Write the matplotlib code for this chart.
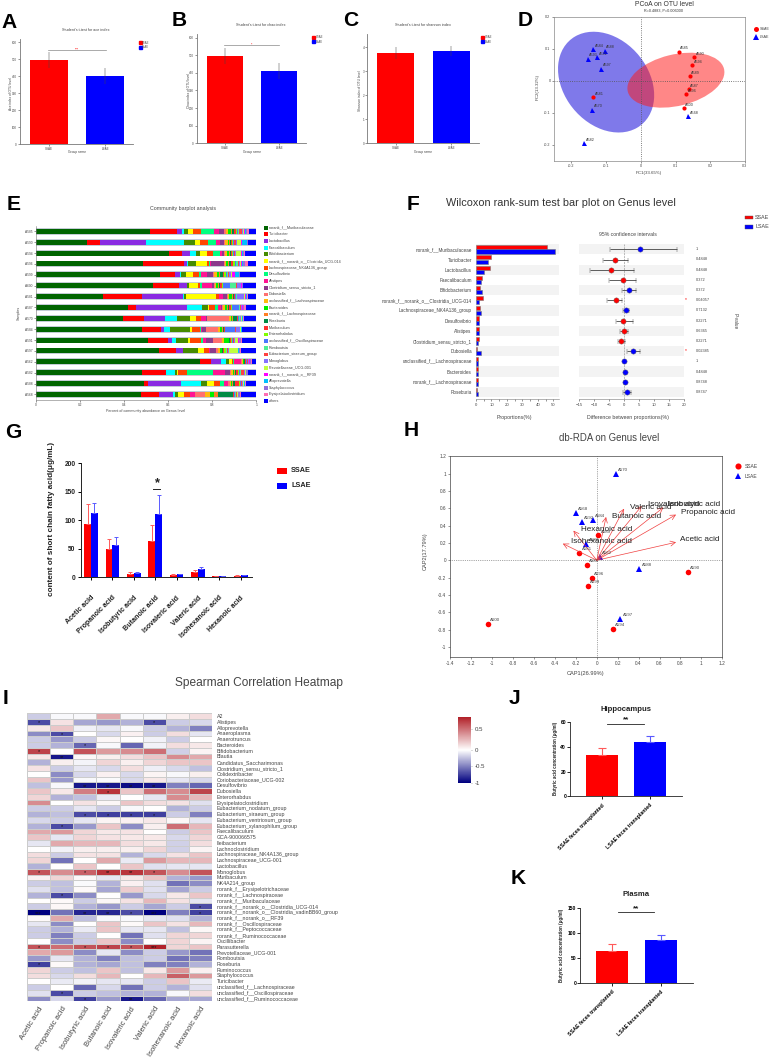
import numpy as np
import matplotlib
matplotlib.use("Agg")
import matplotlib.pyplot as plt
from matplotlib.colors import LinearSegmentedColormap, TwoSlopeNorm
from matplotlib.patches import Ellipse, Rectangle

plt.rcParams['font.family'] = ['Liberation Sans', 'DejaVu Sans']

W, H = 775, 1062
RED = '#ff0000'
BLUE = '#0000ff'
GREY = '#777777'

# A B C
groups = ['SSAE', 'LSAE']
ace_mean = [497, 403]
ace_err = [47, 48]
chao_mean = [497, 410]
chao_err = [46, 43]
shannon_mean = [3.75, 3.85]
shannon_err = [0.25, 0.22]

# D
pcoa_ssae_names = ['A585', 'A590', 'A594', 'A589', 'A587', 'A596', 'A600', 'A581']
pcoa_ssae_x = [0.109, 0.154, 0.148, 0.141, 0.1375, 0.131, 0.123, -0.137]
pcoa_ssae_y = [0.091, 0.073, 0.049, 0.014, -0.027, -0.042, -0.084, -0.05]
pcoa_lsae_names = ['A584', 'A588', 'A592', 'A593', 'A597', 'A570', 'A568', 'A582']
pcoa_lsae_x = [-0.137, -0.104, -0.125, -0.153, -0.114, -0.14, 0.136, -0.1625]
pcoa_lsae_y = [0.1, 0.094, 0.075, 0.069, 0.038, -0.09, -0.11, -0.195]

# E
samples = ['A585', 'A590', 'A594', 'A596', 'A599', 'A600', 'A581', 'A587', 'A570', 'A584',
           'A591', 'A597', 'A562', 'A582', 'A588', 'A568']
genera_e = ['norank_f__Muribaculaceae', 'Turicibacter', 'Lactobacillus', 'Faecalibaculum',
            'Bifidobacterium', 'norank_f__norank_o__Clostridia_UCG-014',
            'Lachnospiraceae_NK4A136_group', 'Desulfovibrio', 'Alistipes',
            'Clostridium_sensu_stricto_1', 'Dubosiella', 'unclassified_f__Lachnospiraceae',
            'Bacteroides', 'norank_f__Lachnospiraceae', 'Roseburia', 'Muribaculum',
            'Enterorhabdus', 'unclassified_f__Oscillospiraceae', 'Romboutsia',
            'Eubacterium_siraeum_group', 'Monoglobus', 'Prevotellaceae_UCG-001',
            'norank_f__norank_o__RF39', 'Alloprevotella', 'Staphylococcus',
            'Erysipelatoclostridium', 'others']
colors_e = ['#006400', '#ff0000', '#8a2be2', '#00ffff', '#458b00', '#ffff00', '#ff4500',
            '#00ff7f', '#ff1493', '#8b3a8b', '#ff7070', '#ffb90f', '#00ee00', '#ff7f24',
            '#008b45', '#ff3030', '#7fff00', '#4876ff', '#4eee94', '#ff4040', '#8470ff',
            '#c0ff3e', '#ff00ff', '#00bfff', '#9370db', '#ff6eb4', '#0000ff']
abund = [
    [53.3, 12.2, 2.6, 0.8, 1.7, 2.7, 3.5, 5.9, 2.7, 2.0, 1.2, 0.6, 1.5, 0.6, 0.8, 0.8, 0.6, 0.6, 0.5, 1.2, 0.6, 0.5, 0.4, 0.3, 0.8, 0.6, 3.5],
    [23.3, 5.7, 21.0, 17.4, 4.7, 2.4, 3.6, 3.5, 1.8, 2.1, 0.3, 1.2, 0.6, 0.5, 0.4, 0.4, 0.5, 0.3, 0.4, 0.6, 0.5, 2.0, 0.3, 2.4, 0.3, 0.2, 3.6],
    [61.0, 5.9, 3.6, 2.6, 2.1, 3.3, 2.6, 3.3, 0.9, 0.9, 0.4, 0.9, 0.6, 0.6, 0.5, 0.5, 0.4, 0.4, 0.3, 0.4, 0.4, 2.4, 0.3, 0.4, 0.5, 0.6, 5.0],
    [49.1, 19.0, 1.5, 0.2, 3.9, 5.1, 0.9, 0.3, 0.7, 5.6, 0.4, 0.5, 0.9, 0.5, 0.9, 1.2, 0.6, 0.5, 1.0, 0.6, 0.5, 0.5, 0.4, 0.5, 0.9, 1.1, 4.0],
    [56.0, 6.3, 2.6, 0.2, 2.4, 3.0, 2.6, 1.2, 2.4, 3.0, 0.2, 1.5, 1.0, 0.5, 1.2, 0.6, 0.6, 0.4, 0.4, 0.8, 0.6, 0.4, 1.5, 1.8, 0.3, 0.3, 7.2],
    [53.0, 12.0, 3.3, 0.1, 1.0, 3.9, 0.9, 1.2, 4.4, 0.9, 0.3, 0.5, 0.9, 0.5, 0.7, 0.5, 0.7, 3.3, 2.7, 0.3, 1.8, 0.2, 0.1, 0.2, 0.2, 0.2, 6.0],
    [30.7, 17.8, 18.7, 0.5, 1.0, 13.4, 1.4, 0.1, 1.7, 2.0, 0.6, 0.3, 1.2, 0.5, 0.4, 0.5, 0.3, 0.3, 0.3, 0.3, 3.2, 0.3, 0.5, 0.3, 0.2, 0.3, 3.9],
    [41.8, 3.2, 23.0, 7.1, 2.4, 0.7, 2.6, 1.4, 1.4, 0.3, 0.3, 1.2, 0.8, 0.6, 0.5, 0.8, 0.5, 3.2, 0.2, 0.5, 0.4, 0.2, 0.2, 0.2, 0.5, 0.6, 4.8],
    [39.7, 9.5, 9.7, 5.4, 6.0, 2.4, 2.4, 0.2, 2.1, 0.3, 10.3, 0.6, 0.5, 0.4, 2.0, 0.4, 0.3, 0.3, 0.3, 0.3, 0.4, 0.2, 0.2, 0.2, 0.3, 0.3, 5.6],
    [48.0, 9.0, 1.2, 2.9, 8.9, 0.8, 3.6, 0.5, 0.5, 1.7, 5.6, 0.9, 1.0, 0.4, 0.3, 0.4, 0.3, 4.2, 0.3, 0.3, 2.0, 0.2, 0.2, 0.1, 0.2, 0.2, 6.3],
    [50.4, 8.9, 1.5, 1.7, 5.6, 0.8, 5.1, 0.9, 1.2, 3.0, 4.0, 1.0, 2.1, 0.3, 0.4, 0.5, 0.3, 0.4, 0.3, 0.3, 0.5, 1.2, 0.3, 0.2, 1.0, 0.2, 6.5],
    [55.0, 7.4, 3.2, 0.1, 6.8, 2.6, 2.1, 0.3, 0.4, 2.7, 0.8, 0.7, 0.8, 0.4, 0.4, 0.5, 0.6, 0.3, 0.3, 0.3, 0.3, 4.1, 0.2, 0.2, 0.7, 0.2, 7.0],
    [74.6, 5.3, 4.4, 2.4, 1.0, 1.7, 0.3, 0.3, 3.2, 0.3, 0.4, 0.3, 0.3, 0.2, 0.3, 0.6, 0.2, 0.2, 0.2, 0.5, 0.3, 0.2, 0.2, 0.1, 0.5, 0.2, 2.1],
    [47.1, 10.9, 0.1, 3.8, 0.8, 0.6, 4.2, 11.2, 5.6, 2.0, 0.5, 0.8, 0.5, 0.6, 0.5, 0.9, 0.4, 0.3, 0.4, 1.6, 0.3, 0.2, 0.2, 0.1, 0.6, 0.4, 3.5],
    [49.0, 1.8, 14.8, 9.2, 2.6, 3.2, 2.4, 2.0, 1.7, 0.3, 0.7, 0.4, 0.6, 0.6, 0.7, 2.0, 0.3, 0.3, 0.3, 0.4, 0.3, 0.3, 0.2, 0.3, 0.3, 0.2, 4.7],
    [48.2, 7.9, 6.6, 1.0, 1.4, 2.6, 2.6, 0.1, 2.1, 0.1, 4.7, 2.0, 1.8, 2.0, 6.9, 0.3, 0.3, 0.4, 0.3, 0.3, 0.4, 0.2, 0.1, 0.1, 0.7, 0.5, 7.0],
]

# F
genera_f = ['norank_f__Muribaculaceae', 'Turicibacter', 'Lactobacillus', 'Faecalibaculum',
            'Bifidobacterium', 'norank_f__norank_o__Clostridia_UCG-014',
            'Lachnospiraceae_NK4A136_group', 'Desulfovibrio', 'Alistipes',
            'Clostridium_sensu_stricto_1', 'Dubosiella', 'unclassified_f__Lachnospiraceae',
            'Bacteroides', 'norank_f__Lachnospiraceae', 'Roseburia']
prop_ssae = [46, 10, 9.3, 3.7, 2.5, 4.3, 2.4, 2.0, 2.0, 2.0, 0.5, 1.2, 1.2, 1.2, 0.7]
prop_lsae = [51, 7.5, 5.2, 3.2, 4.2, 1.8, 3.0, 2.0, 2.0, 1.5, 3.3, 1.2, 1.2, 1.2, 1.5]
diff = [5.4, -2.9, -4.4, -0.3, 1.7, -2.7, 0.6, -0.3, 0.0, -0.9, 3.0, 0.0, 0.2, 0.2, 0.8]
ci_low = [-4.65, -7.0, -11.3, -5.0, -0.7, -5.6, -0.5, -2.7, -1.3, -2.1, 0.8, -0.2, -0.2, -0.2, -0.3]
ci_high = [17.6, 1.4, 3.3, 3.8, 4.0, -0.8, 1.7, 3.0, 1.3, 0.3, 5.4, 0.2, 0.6, 0.6, 2.2]
p_values = ['1', '0.4848', '0.4848', '0.372', '0.372', '0.04057', '0.7132', '0.2271',
            '0.6365', '0.2271', '0.02385', '1', '0.4848', '0.8748', '0.8747']

# G
acids = ['Acetic acid', 'Propanoic acid', 'Isobutyric acid', 'Butanoic acid',
         'Isovaleric acid', 'Valeric acid', 'Isohexanoic acid', 'Hexanoic acid']
scfa_ssae = [94, 49, 5, 63, 3.5, 9, 1.2, 2]
scfa_lsae = [112, 57, 7, 110, 4.5, 14, 1.5, 3]
scfa_ssae_err = [34, 17, 3, 29, 2.5, 4, 0.8, 1]
scfa_lsae_err = [18, 14, 1.5, 34, 1.5, 4, 1, 1]

# H
rda_ssae_names = ['A590', 'A600', 'A594', 'A599', 'A596', 'A586', 'A581', 'A589']
rda_ssae_x = [0.87, -1.042, 0.153, -0.086, -0.048, -0.092, -0.166, 0.016]
rda_ssae_y = [-0.135, -0.738, -0.796, -0.292, -0.2, -0.054, 0.088, 0.288]
rda_lsae_names = ['A570', 'A568', 'A584', 'A592', 'A587', 'A562', 'A588', 'A597']
rda_lsae_x = [0.185, -0.2, -0.035, -0.14, -0.1, 0.029, 0.408, 0.226]
rda_lsae_y = [1.0, 0.546, 0.469, 0.442, 0.185, 0.035, -0.104, -0.677]
arrow_x = [0.758, 0.758, 0.637, 0.43, 0.261, 0.089, -0.223, -0.325]
arrow_y = [0.208, 0.527, 0.61, 0.627, 0.596, 0.5, 0.342, 0.192]
arrow_names = ['Acetic acid', 'Propanoic acid', 'Isobutyric acid', 'Isovaleric acid',
               'Valeric acid', 'Butanoic acid', 'Hexanoic acid', 'Isohexanoic acid']
arrow_text_x = [0.8, 0.808, 0.68, 0.485, 0.313, 0.15, -0.153, -0.242]
arrow_text_y = [0.235, 0.547, 0.645, 0.645, 0.61, 0.505, 0.358, 0.213]

# I
genera_i = ['A2', 'Alistipes', 'Alloprevotella', 'Anaeroplasma', 'Anaerotruncus', 'Bacteroides',
            'Bifidobacterium', 'Blautia', 'Candidatus_Saccharimonas', 'Clostridium_sensu_stricto_1',
            'Colidextribacter', 'Coriobacteriaceae_UCG-002', 'Desulfovibrio', 'Dubosiella',
            'Enterorhabdus', 'Erysipelatoclostridium', 'Eubacterium_nodatum_group',
            'Eubacterium_siraeum_group', 'Eubacterium_ventriosum_group',
            'Eubacterium_xylanophilum_group', 'Faecalibaculum', 'GCA-900066575', 'Ileibacterium',
            'Lachnoclostridium', 'Lachnospiraceae_NK4A136_group', 'Lachnospiraceae_UCG-001',
            'Lactobacillus', 'Monoglobus', 'Muribaculum', 'NK4A214_group',
            'norank_f__Erysipelotrichaceae', 'norank_f__Lachnospiraceae',
            'norank_f__Muribaculaceae', 'norank_f__norank_o__Clostridia_UCG-014',
            'norank_f__norank_o__Clostridia_vadinBB60_group', 'norank_f__norank_o__RF39',
            'norank_f__Oscillospiraceae', 'norank_f__Peptococcaceae', 'norank_f__Ruminococcaceae',
            'Oscillibacter', 'Parasutterella', 'Prevotellaceae_UCG-001', 'Romboutsia', 'Roseburia',
            'Ruminococcus', 'Staphylococcus', 'Turicibacter', 'unclassified_f__Lachnospiraceae',
            'unclassified_f__Oscillospiraceae', 'unclassified_f__Ruminococcaceae']
corr = [
    [-.2, -.03, -.03, .3, -.03, -.03, .06, .12],
    [-.7, .1, -.35, -.4, -.3, -.7, -.2, -.15],
    [.08, .2, -.06, -.1, -.03, -.2, -.3, -.5],
    [-.45, -.7, 0, -.15, .05, -.2, .12, -.1],
    [-.2, -.4, -.2, .03, 0, -.05, -.2, 0],
    [-.2, -.3, -.6, -.03, -.6, -.05, .12, .08],
    [.65, 0, .6, .35, .4, .5, -.18, .04],
    [.08, -.9, .03, .06, .12, .2, .4, .3],
    [-.3, .06, -.04, .15, .06, .15, .2, .2],
    [.1, -.2, -.1, -.15, .12, -.07, -.15, -.25],
    [0, -.45, -.15, .05, -.15, .04, -.03, .06],
    [.2, -.4, -.03, -.02, -.15, .08, -.1, -.15],
    [-.25, -.03, -.9, -.9, -.95, -.9, -.5, -.6],
    [.2, .08, .45, .7, .2, .5, .4, .65],
    [.15, -.3, -.25, -.08, 0, -.1, .4, .25],
    [.4, 0, .1, .03, .2, .12, .1, -.12],
    [-.2, -.2, -.1, -.2, -.03, 0, -.3, -.2],
    [-.3, -.25, -.7, -.75, -.75, -.75, -.2, -.5],
    [-.15, -.2, -.1, .04, .05, .08, .03, -.1],
    [-.3, -.7, -.4, .2, -.45, .06, .5, .25],
    [.3, .35, .15, .08, .1, 0, -.2, .2],
    [.2, -.1, .15, .1, .08, .08, -.15, .15],
    [-.1, .3, .25, .25, .12, .08, -.18, .12],
    [0, -.05, .06, .06, .06, .15, -.18, .04],
    [.12, -.2, .1, .1, -.3, -.15, .1, .2],
    [.15, -.55, 0, .3, -.08, .35, .25, .25],
    [-.3, 0, .2, 0, .2, -.12, -.1, -.1],
    [.6, .4, .55, .7, .7, .6, .4, .6],
    [.05, .15, .03, -.1, .08, .2, -.3, -.4],
    [-.2, -.25, -.02, -.3, .05, -.12, -.55, -.45],
    [-.12, -.25, .02, -.35, .18, -.12, -.35, -.2],
    [-.3, -.7, -.45, 0, -.4, -.15, .08, .2],
    [0, .02, -.2, .03, .1, .25, .1, -.1],
    [-.2, .03, -.3, -.4, -.2, -.35, -.2, -.7],
    [-1, -.55, -.85, -.85, -.7, -1, -.5, -.75],
    [.02, .3, -.25, -.03, -.03, -.1, -.12, -.3],
    [-.1, -.45, 0, .2, .02, .2, .1, .25],
    [-.2, -.3, -.08, .2, -.1, -.1, -.25, .03],
    [-.2, -.5, -.2, 0, -.55, -.12, .15, .15],
    [0, -.45, -.2, .2, -.45, 0, .15, .04],
    [.6, .5, .6, .65, .6, .77, .15, .2],
    [.3, .35, -.45, -.1, -.45, -.2, -.4, -.55],
    [-.4, -.1, -.3, -.5, -.25, -.2, -.55, -.5],
    [-.75, .02, -.3, -.35, -.25, -.5, -.5, -.3],
    [.15, -.2, -.25, .2, -.25, .08, .35, .05],
    [.12, -.15, .12, .25, 0, .25, .55, .35],
    [0, -.08, -.05, -.1, -.1, -.2, .2, -.08],
    [-.2, 0, -.6, -.15, -.55, -.2, -.3, -.12],
    [-.12, -.7, -.2, -.25, -.3, -.3, -.03, .12],
    [-.45, -.15, -.75, -.4, -.9, -.6, -.35, -.35],
]
stars = {'Alistipes': {0: '*', 5: '*'}, 'Anaeroplasma': {1: '*'}, 'Bacteroides': {2: '*'},
         'Bifidobacterium': {0: '*'}, 'Blautia': {1: '**'},
         'Desulfovibrio': {2: '**', 3: '**', 4: '**', 5: '**'}, 'Dubosiella': {3: '*'},
         'Eubacterium_siraeum_group': {2: '*', 3: '*', 4: '*', 5: '*'},
         'Eubacterium_xylanophilum_group': {1: '*'},
         'Monoglobus': {0: '*', 2: '*', 3: '**', 4: '**', 5: '*'},
         'norank_f__Lachnospiraceae': {1: '*'},
         'norank_f__norank_o__Clostridia_UCG-014': {7: '*'},
         'norank_f__norank_o__Clostridia_vadinBB60_group': {0: '***', 2: '**', 3: '**', 4: '*', 5: '***', 7: '*'},
         'Parasutterella': {0: '*', 2: '*', 3: '*', 4: '*', 5: '***'},
         'Roseburia': {0: '*'}, 'unclassified_f__Oscillospiraceae': {1: '*'},
         'unclassified_f__Ruminococcaceae': {2: '*', 4: '**'}}

# J K
hippo_mean = [33.5, 43.5]
hippo_err = [5.5, 4.8]
plasma_mean = [64, 85]
plasma_err = [13, 10.6]
jk_labels = ['SSAE feces transplanted', 'LSAE feces transplanted']

fig = plt.figure(figsize=(W / 100, H / 100), dpi=100)


def add_ax(x0, y0, x1, y1):
    return fig.add_axes([x0 / W, 1 - y1 / H, (x1 - x0) / W, (y1 - y0) / H])


def fs(px):
    # font size from pixel height of the em
    return px * 0.72


# overlay in pixel coordinates for panel letters, titles and hand placed keys
pg = fig.add_axes([0, 0, 1, 1], zorder=20)
pg.set_xlim(0, W)
pg.set_ylim(H, 0)
pg.axis('off')


def txt(x, y, s, px, **kw):
    kw.setdefault('ha', 'center')
    kw.setdefault('va', 'center')
    kw.setdefault('color', '#222222')
    pg.text(x, y, s, fontsize=fs(px), **kw)


letters = {'A': (1, 22), 'B': (172, 21), 'C': (343, 21), 'D': (518, 21), 'E': (7, 205),
           'F': (407, 205), 'G': (5, 432), 'H': (404, 431), 'I': (3, 699), 'J': (509, 699),
           'K': (511, 878)}
for k, (lx, ly) in letters.items():
    txt(lx, ly, k, 21, ha='left', fontweight='bold', color='black')


def thin_axes(ax, color=GREY, lw=0.6):
    ax.spines['top'].set_visible(False)
    ax.spines['right'].set_visible(False)
    for s in ['left', 'bottom']:
        ax.spines[s].set_color(color)
        ax.spines[s].set_linewidth(lw)


def alpha_panel(box, mean, err, yticks, ylim, ylabel, title, title_xy, ylabel_x, xlabel_x,
                legend_xy, bracket=None):
    ax = add_ax(*box)
    ax.bar([0, 1], mean, width=0.67, color=[RED, BLUE])
    ax.errorbar([0, 1], mean, yerr=err, fmt='none', ecolor='#444444', elinewidth=0.35)
    ax.set_xlim(-0.512, 1.495)
    ax.set_ylim(*ylim)
    ax.set_xticks([0, 1])
    ax.set_xticklabels(groups)
    ax.set_yticks(yticks)
    ax.tick_params(labelsize=fs(3), length=1.2, width=0.4, pad=1, colors='#444444')
    thin_axes(ax)
    txt(title_xy[0], title_xy[1], title, 3.7, color='#444444')
    txt(ylabel_x, (box[1] + box[3]) / 2 + 2, ylabel, 3.2, rotation=90, color='#444444')
    txt(xlabel_x, 152, 'Group name', 3.2, color='#444444')
    for i, c in enumerate([RED, BLUE]):
        pg.add_patch(Rectangle((legend_xy[0], legend_xy[1] + i * 4.5 - 1.4), 2.8, 2.8, color=c))
        txt(legend_xy[0] + 3.4, legend_xy[1] + i * 4.5, groups[i], 2.8, ha='left', color='#444444')
    if bracket:
        pg.plot(bracket[:2], [bracket[2]] * 2, color='#888888', lw=0.5)
        txt(sum(bracket[:2]) / 2, bracket[2] - 0.6, '***' if bracket[3] else '*', 3.5, color=RED)


alpha_panel((20, 39, 133, 144.3), ace_mean, ace_err, range(0, 601, 100), (0, 620),
            'Ace index of OTU level', "Student's t-test for ace index", (86, 30.3), 10.7, 76.7,
            (138.7, 42.7), (48.3, 105.7, 50, True))
alpha_panel((197, 34, 306, 143.3), chao_mean, chao_err, range(0, 601, 100), (0, 620),
            'Chao index of OTU level', "Student's t-test for chao index", (260.7, 25), 188.7, 252,
            (312, 37.3), (224, 279.3, 45.3, False))
alpha_panel((367.3, 34, 479, 143.3), shannon_mean, shannon_err, range(0, 5), (0, 4.55),
            'Shannon index of OTU level', "Student's t-test for shannon index", (423, 25), 360, 423,
            (481, 37.3))

# D
ax = add_ax(554, 16.7, 745, 161)
ax.add_patch(Ellipse((-0.1, -0.004), 0.336, 0.25, angle=-58, color='#3a32e0', alpha=0.65, lw=0))
ax.add_patch(Ellipse((0.101, 0.002), 0.286, 0.16, angle=15, color='#ff1a1a', alpha=0.52, lw=0))
ax.axhline(0, color='#555555', lw=0.6, ls=':')
ax.axvline(0, color='#555555', lw=0.6, ls=':')
ax.plot(pcoa_ssae_x, pcoa_ssae_y, 'o', color=RED, ms=3, mew=0)
ax.plot(pcoa_lsae_x, pcoa_lsae_y, '^', color=BLUE, ms=3.6, mew=0)
for names, xs, ys in [(pcoa_ssae_names, pcoa_ssae_x, pcoa_ssae_y),
                      (pcoa_lsae_names, pcoa_lsae_x, pcoa_lsae_y)]:
    for n, a, b in zip(names, xs, ys):
        ax.annotate(n, (a, b), xytext=(1.2, 1.6), textcoords='offset points',
                    fontsize=fs(3.8), color='#333333')
ax.set_xlim(-0.25, 0.3)
ax.set_ylim(-0.25, 0.2)
ax.set_xticks([-0.2, -0.1, 0, 0.1, 0.2, 0.3])
ax.set_xticklabels(['-0.2', '-0.1', '0', '0.1', '0.2', '0.3'])
ax.set_yticks([-0.2, -0.1, 0, 0.1, 0.2])
ax.set_yticklabels(['-0.2', '-0.1', '0', '0.1', '0.2'])
ax.tick_params(labelsize=fs(3.8), length=1.5, width=0.4, pad=1, colors='#444444')
for s in ax.spines.values():
    s.set_color('#888888')
    s.set_linewidth(0.5)
txt(664, 4.7, 'PCoA on OTU level', 6.8, color='#333333')
txt(664, 11, 'R=0.4883, P=0.006000', 3.7, color='#333333')
txt(649, 173, 'PC1(33.65%)', 4.4, color='#444444')
txt(537.5, 87, 'PC2(13.32%)', 4.4, rotation=90, color='#444444')
pg.plot([755.7], [29], 'o', color=RED, ms=3.6, mew=0)
pg.plot([755.7], [37], '^', color=BLUE, ms=3.8, mew=0)
txt(760, 29, 'SSAE', 3.8, ha='left', color='#444444')
txt(760, 37, 'LSAE', 3.8, ha='left', color='#444444')

# E
ax = add_ax(35.7, 226, 256.3, 399.5)
abund = np.array(abund)
abund = abund / abund.sum(axis=1, keepdims=True)
ypos = np.arange(len(samples))
ax.barh(ypos, np.ones(len(samples)), height=0.62, color='#c4ccd6')
left = np.zeros(len(samples))
for j in range(abund.shape[1]):
    ax.barh(ypos, abund[:, j], left=left, height=0.46, color=colors_e[j], lw=0)
    left += abund[:, j]
ax.set_xlim(0, 1)
ax.set_ylim(15.47, -0.488)
ax.set_yticks(ypos)
ax.set_yticklabels(samples)
ax.set_xticks([0, 0.2, 0.4, 0.6, 0.8, 1])
ax.set_xticklabels(['0', '0.2', '0.4', '0.6', '0.8', '1'])
ax.tick_params(labelsize=fs(3.2), length=1.2, width=0.4, pad=1, colors='#444444')
thin_axes(ax, lw=0.4)
txt(182.7, 208.7, 'Community barplot analysis', 5.3, color='#444444')
txt(19, 312.7, 'Samples', 3.6, rotation=90, color='#444444')
txt(146, 411, 'Percent of community abundance on Genus level', 3.6, color='#444444')
for j, g in enumerate(genera_e):
    yy = 227.7 + j * 6.67
    pg.add_patch(Rectangle((264, yy - 1.9), 3.6, 3.8, color=colors_e[j], lw=0))
    txt(268.7, yy, g, 3.7, ha='left', color='#444444')

# F
rows = np.arange(len(genera_f))
ax = add_ax(476, 244.3, 559, 399)
for r in rows[::2]:
    ax.axhspan(r - 0.5, r + 0.5, color='#f3f3f3', lw=0)
ax.barh(rows - 0.21, prop_ssae, height=0.4, color=RED, edgecolor='#777777', lw=0.4)
ax.barh(rows + 0.21, prop_lsae, height=0.4, color=BLUE, edgecolor='#777777', lw=0.4)
ax.set_xlim(0, 53.7)
ax.set_ylim(14.7, -0.5)
ax.set_yticks(rows)
ax.set_yticklabels(genera_f)
ax.set_xticks(range(0, 51, 10))
ax.set_xticks(range(0, 51, 5), minor=True)
ax.tick_params(axis='y', length=0, labelsize=fs(4.6), pad=3, colors='#444444')
ax.tick_params(axis='x', which='both', length=1.5, width=0.4, labelsize=fs(4.2), pad=1.5, colors='#444444')
ax.spines['top'].set_visible(False)
ax.spines['right'].set_visible(False)
ax.spines['left'].set_visible(False)
ax.spines['bottom'].set_linewidth(0.4)
ax.spines['bottom'].set_color(GREY)

ax = add_ax(579, 244.3, 684.3, 399)
for r in rows[::2]:
    ax.axhspan(r - 0.5, r + 0.5, color='#f3f3f3', lw=0)
ax.axvline(0, color='#888888', lw=0.4, ls='--')
for r in rows:
    c = BLUE if diff[r] > 0 or r == 11 else RED
    ax.errorbar(diff[r], r, xerr=[[diff[r] - ci_low[r]], [ci_high[r] - diff[r]]], fmt='o',
                color=c, ms=3.8, mec='#666666', mew=0.3, ecolor='#444444', elinewidth=0.6,
                capsize=1.8, capthick=0.5)
ax.set_xlim(-15, 20)
ax.set_ylim(14.7, -0.5)
ax.set_yticks([])
ax.set_xticks(range(-15, 21, 5))
ax.tick_params(axis='x', length=1.5, width=0.4, labelsize=fs(4.2), pad=1.5, colors='#444444')
ax.spines['top'].set_visible(False)
ax.spines['right'].set_visible(False)
ax.spines['left'].set_visible(False)
ax.spines['bottom'].set_linewidth(0.4)
ax.spines['bottom'].set_color(GREY)
for r, p in enumerate(p_values):
    py = 249.3 + r * 10.19
    txt(696, py, p, 3.9, ha='left', color='#444444')
    if p in ('0.04057', '0.02385'):
        txt(686, py - 1, '*', 5, color=RED)
txt(561, 203, 'Wilcoxon rank-sum test bar plot on Genus level', 10.9, color='#333333')
txt(628, 234.7, '95% confidence intervals', 5.1, color='#444444')
txt(514, 417.7, 'Proportions(%)', 5.2, color='#444444')
txt(627.7, 417.7, 'Difference between proportions(%)', 5.2, color='#444444')
txt(735, 320.7, 'P-value', 4.8, rotation=270, color='#444444')
pg.add_patch(Rectangle((745, 215.5), 8, 3.6, fc=RED, ec='#555555', lw=0.3))
pg.add_patch(Rectangle((745, 225.2), 8, 3.6, fc=BLUE, ec='#555555', lw=0.3))
txt(755, 217.3, 'SSAE', 5.4, ha='left', color='#444444')
txt(755, 227, 'LSAE', 5.4, ha='left', color='#444444')

# G
ax = add_ax(81, 463.3, 252, 577)
xg = np.arange(len(acids))
bw = 0.32
ax.bar(xg - bw / 2, scfa_ssae, width=bw, color=RED)
ax.bar(xg + bw / 2, scfa_lsae, width=bw, color=BLUE)
ax.errorbar(xg - bw / 2, scfa_ssae, yerr=[np.zeros(8), scfa_ssae_err], fmt='none',
            ecolor='#ff5a5a', elinewidth=0.7, capsize=1.6, capthick=0.7)
ax.errorbar(xg + bw / 2, scfa_lsae, yerr=[np.zeros(8), scfa_lsae_err], fmt='none',
            ecolor='#5a5aff', elinewidth=0.7, capsize=1.6, capthick=0.7)
ax.set_xlim(-0.47, 7.53)
ax.set_ylim(0, 200)
ax.set_yticks(range(0, 201, 50))
ax.set_xticks(xg)
ax.set_xticklabels(acids, rotation=45, ha='right', rotation_mode='anchor', fontweight='bold',
                   fontsize=fs(7.2))
ax.tick_params(axis='y', labelsize=fs(6.6), length=2.5, width=0.7, pad=1.5, labelcolor='#222222')
ax.tick_params(axis='x', length=2.5, width=0.7, pad=10, labelcolor='#222222')
for lab in ax.get_yticklabels():
    lab.set_fontweight('bold')
thin_axes(ax, color='#222222', lw=0.7)
txt(51.7, 519, 'content of short chain fatty acid(μg/mL)', 8.1, rotation=90, fontweight='bold')
txt(156.3, 483, '*', 13, fontweight='bold')
pg.plot([153, 160], [489, 489], color='#222222', lw=0.7)
pg.add_patch(Rectangle((277, 468), 10, 5.5, color=RED, lw=0))
pg.add_patch(Rectangle((277, 483), 10, 5.5, color=BLUE, lw=0))
txt(291, 470.7, 'SSAE', 7.3, ha='left', fontweight='bold')
txt(291, 485.7, 'LSAE', 7.3, ha='left', fontweight='bold')

# H
ax = add_ax(450.3, 456.3, 722.3, 657.3)
ax.axhline(0, color='#555555', lw=0.5, ls=':')
ax.axvline(0, color='#555555', lw=0.5, ls=':')
for a, b in zip(arrow_x, arrow_y):
    ax.annotate('', xy=(a, b), xytext=(0, 0),
                arrowprops=dict(arrowstyle='->', color='#f04040', lw=0.5, shrinkA=0, shrinkB=0,
                                mutation_scale=9))
ax.plot(rda_ssae_x, rda_ssae_y, 'o', color=RED, ms=4, mew=0)
ax.plot(rda_lsae_x, rda_lsae_y, '^', color=BLUE, ms=5, mew=0)
for names, xs, ys in [(rda_ssae_names, rda_ssae_x, rda_ssae_y),
                      (rda_lsae_names, rda_lsae_x, rda_lsae_y)]:
    for n, a, b in zip(names, xs, ys):
        ax.annotate(n, (a, b), xytext=(1.6, 2), textcoords='offset points',
                    fontsize=fs(4.4), color='#444444')
for n, a, b in zip(arrow_names, arrow_text_x, arrow_text_y):
    ax.text(a, b, n, fontsize=fs(8.2), color='#222222', va='center')
ax.set_xlim(-1.4, 1.2)
ax.set_ylim(-1.12, 1.2)
xt = [-1.4, -1.2, -1, -0.8, -0.6, -0.4, -0.2, 0, 0.2, 0.4, 0.6, 0.8, 1, 1.2]
yt = [-1, -0.8, -0.6, -0.4, -0.2, 0, 0.2, 0.4, 0.6, 0.8, 1, 1.2]
ax.set_xticks(xt)
ax.set_xticklabels([f'{v:g}' for v in xt])
ax.set_yticks(yt)
ax.set_yticklabels([f'{v:g}' for v in yt])
ax.tick_params(labelsize=fs(4.8), length=1.5, width=0.4, pad=1.5, colors='#444444')
for s in ax.spines.values():
    s.set_color('#444444')
    s.set_linewidth(0.5)
txt(609, 438.3, 'db-RDA on Genus level', 9.6, color='#444444')
txt(586, 674, 'CAP1(26.99%)', 5.6, color='#444444')
txt(425.7, 551, 'CAP2(17.79%)', 5.6, rotation=90, color='#444444')
pg.plot([738.3], [466], 'o', color=RED, ms=4.4, mew=0)
pg.plot([738.3], [476], '^', color=BLUE, ms=5, mew=0)
txt(745, 466, 'SSAE', 5, ha='left', color='#444444')
txt(745, 476, 'LSAE', 5, ha='left', color='#444444')

# I
cmap = LinearSegmentedColormap.from_list('rb', ['#00007f', '#ffffff', '#b2222a'])
norm = TwoSlopeNorm(vmin=-1, vcenter=0, vmax=0.77)
ax = add_ax(27, 713.3, 212, 1001.3)
mesh = ax.pcolormesh(np.array(corr), cmap=cmap, norm=norm, edgecolors='#cccccc', linewidth=0.4)
ax.set_ylim(len(genera_i), 0)
ax.set_xlim(0, 8)
ax.set_yticks(np.arange(len(genera_i)) + 0.5)
ax.set_yticklabels(genera_i)
ax.yaxis.tick_right()
ax.set_xticks(np.arange(8) + 0.5)
ax.set_xticklabels(acids, rotation=58, ha='right', rotation_mode='anchor', fontsize=fs(7.6), color='#444444')
ax.tick_params(axis='y', length=0, labelsize=fs(5.3), pad=3.5, labelcolor='#444444')
ax.tick_params(axis='x', length=0, pad=3)
for s in ax.spines.values():
    s.set_visible(False)
for g, cols in stars.items():
    r = genera_i.index(g)
    for c, st in cols.items():
        ax.text(c + 0.5, r + 0.68, st, ha='center', va='center', fontsize=fs(5.5), color='#111111')
txt(259, 683, 'Spearman Correlation Heatmap', 11.9, color='#444444')
cax = add_ax(458, 717.3, 471.3, 782.7)
cb = fig.colorbar(mesh, cax=cax)
cb.set_ticks([-1, -0.5, 0, 0.5])
cb.set_ticklabels(['-1', '-0.5', '0', '0.5'])
cb.ax.tick_params(labelsize=fs(6.2), length=1, width=0.4, pad=1.5, labelcolor='#444444', color='#888888')
cb.outline.set_visible(False)


# J K
def butyric(box, mean, err, yticks, ymax, title, title_xy, bracket_y, ylabel_xy, x1, x2):
    ax = add_ax(*box)
    ax.bar([x1, x2], mean, width=31.7, color=[RED, BLUE])
    ax.errorbar([x1], mean[0], yerr=[[0], [err[0]]], fmt='none', ecolor='#ff5a5a', elinewidth=0.8,
                capsize=2.6, capthick=0.8)
    ax.errorbar([x2], mean[1], yerr=[[0], [err[1]]], fmt='none', ecolor='#5a5aff', elinewidth=0.8,
                capsize=2.6, capthick=0.8)
    ax.set_xlim(box[0], box[2])
    ax.set_ylim(0, ymax)
    ax.set_yticks(yticks)
    ax.set_xticks([x1, x2])
    ax.set_xticklabels(jk_labels, rotation=45, ha='right', rotation_mode='anchor',
                       fontweight='bold', fontsize=fs(5.3))
    ax.tick_params(axis='y', labelsize=fs(5), length=2, width=0.6, pad=1)
    ax.tick_params(axis='x', length=2, width=0.6, pad=2.5)
    for lab in ax.get_yticklabels():
        lab.set_fontweight('bold')
    thin_axes(ax, color='#222222', lw=0.6)
    txt(title_xy[0], title_xy[1], title, 7.8, fontweight='bold')
    mid = title_xy[0]
    pg.plot([mid - 18.3, mid + 18.3], [bracket_y, bracket_y], color='#222222', lw=0.6)
    txt(mid, bracket_y - 4, '**', 8, fontweight='bold')
    txt(ylabel_xy[0], ylabel_xy[1], 'Butyric acid concentration (μg/ml)', 4.5, rotation=90,
        fontweight='bold')


butyric((570.3, 722, 681.7, 796.3), hippo_mean, hippo_err, [0, 20, 40, 60], 60, 'Hippocampus',
        (625.7, 709.3), 724, (555, 758.7), 602.2, 649.8)
butyric((580.3, 907.7, 693, 983), plasma_mean, plasma_err, [0, 50, 100, 150], 150, 'Plasma',
        (636, 895), 912.3, (561.3, 945.3), 612, 660.7)

fig.savefig('out.png', dpi=100)
